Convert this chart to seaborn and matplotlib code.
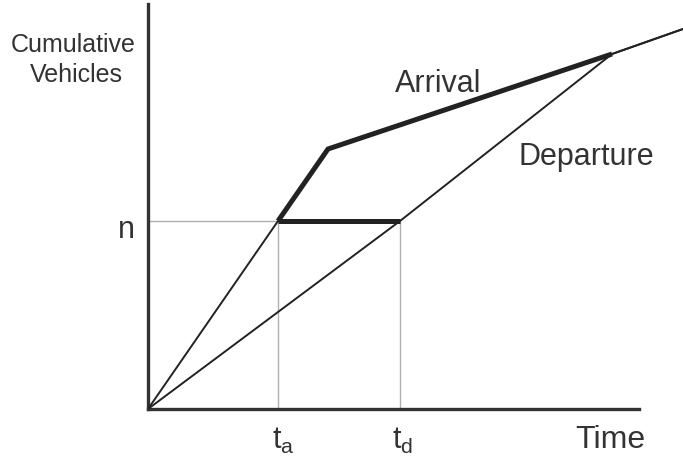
import matplotlib
matplotlib.use("Agg")
import matplotlib.pyplot as plt
import seaborn as sns
import pandas as pd

# Schematic cumulative-vehicle diagram (units)
arrival_time = [0, 130, 180, 464, 535]
arrival_cum = [0, 188, 260, 355, 380]
departure_time = [0, 252, 464, 535]
departure_cum = [0, 188, 355, 380]
queue_arrival_time = [130, 180, 464]
queue_arrival_cum = [188, 260, 355]
queue_time = [130, 252]
queue_cum = [188, 188]
n_value = 188
t_a = 130
t_d = 252

sns.set_theme(style="white")
plt.rcParams['font.family'] = ['Liberation Sans', 'DejaVu Sans']

fig = plt.figure(figsize=(6.83, 4.60), dpi=100)
ax = fig.add_axes([148/683, 50/460, 535/683, 405/460])

ink = "#222222"
guide = "#b0b0b0"

# guide lines
ax.plot([0, t_d], [n_value, n_value], color=guide, lw=1.0, zorder=1)
ax.plot([t_a, t_a], [0, n_value], color=guide, lw=1.0, zorder=1)
ax.plot([t_d, t_d], [0, n_value], color=guide, lw=1.0, zorder=1)

df_arr = pd.DataFrame({"t": arrival_time, "c": arrival_cum})
df_dep = pd.DataFrame({"t": departure_time, "c": departure_cum})
df_qa = pd.DataFrame({"t": queue_arrival_time, "c": queue_arrival_cum})
df_q = pd.DataFrame({"t": queue_time, "c": queue_cum})

sns.lineplot(data=df_arr, x="t", y="c", ax=ax, color=ink, lw=1.4, sort=False, zorder=3)
sns.lineplot(data=df_dep, x="t", y="c", ax=ax, color=ink, lw=1.4, sort=False, zorder=3)
sns.lineplot(data=df_qa, x="t", y="c", ax=ax, color=ink, lw=3.6, sort=False, zorder=4,
             solid_joinstyle="miter", solid_capstyle="butt")
sns.lineplot(data=df_q, x="t", y="c", ax=ax, color=ink, lw=3.6, sort=False, zorder=4,
             solid_capstyle="butt")

ax.set_xlim(0, 535)
ax.set_ylim(0, 405)
ax.set_xlabel("")
ax.set_ylabel("")
ax.set_xticks([])
ax.set_yticks([])
for s in ["top", "right"]:
    ax.spines[s].set_visible(False)
for s in ["left", "bottom"]:
    ax.spines[s].set_color("#333333")
    ax.spines[s].set_linewidth(2.4)
ax.spines["bottom"].set_bounds(0, 491)
ax.spines["left"].set_bounds(0, 405)
ax.patch.set_alpha(0)

txt = "#333333"
fig.text(73/683, 1 - 45/460, "Cumulative", ha="center", va="center", fontsize=18, color=txt)
fig.text(76/683, 1 - 75/460, "Vehicles", ha="center", va="center", fontsize=18, color=txt)
ax.text(438 - 148, 410 - 84, "Arrival", ha="center", va="center", fontsize=22, color=txt)
ax.text(586 - 148, 410 - 157, "Departure", ha="center", va="center", fontsize=22, color=txt)
ax.text(-22, 410 - 230, "n", ha="center", va="center", fontsize=22, color=txt, clip_on=False)
ax.text(283 - 148, -31, r"t$_\mathregular{a}$", ha="center", va="center", fontsize=22, color=txt, clip_on=False)
ax.text(403 - 148, -31, r"t$_\mathregular{d}$", ha="center", va="center", fontsize=22, color=txt, clip_on=False)
ax.text(610 - 148, -30, "Time", ha="center", va="center", fontsize=23, color=txt, clip_on=False)

fig.savefig("out.png", dpi=100)
